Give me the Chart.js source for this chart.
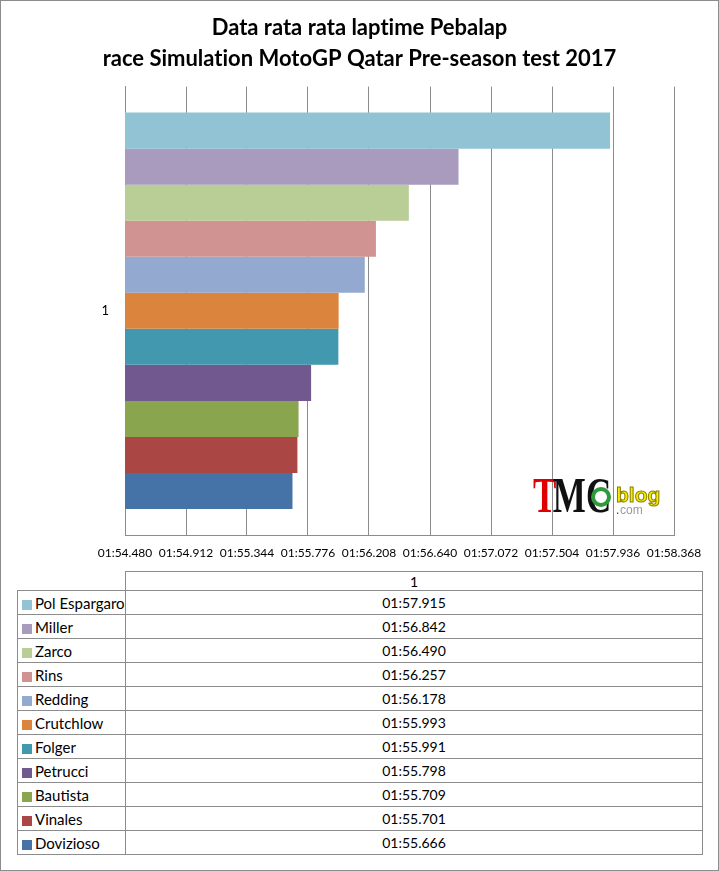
<!DOCTYPE html>
<html>
<head>
<meta charset="utf-8">
<script src="https://cdn.jsdelivr.net/npm/chart.js@4.4.0/dist/chart.umd.min.js"></script>
<style>
  body { margin: 0; background: #fff; font-family: Lato, sans-serif; }
  #wrap { position: relative; width: 719px; height: 871px; box-sizing: border-box; border: 1px solid #8c8c8c; background: #fff; }
  #box { position: absolute; left: 0; top: 0; width: 717px; height: 565px; }
  #tbl { position: absolute; left: 16px; top: 570px; border-collapse: collapse; table-layout: fixed; width: 686px; font-size: 14px; color: #000; }
  #tbl td { border: 1px solid #8c8c8c; padding: 0; height: 23px; white-space: nowrap; }
  #tbl tr.head td { height: 18px; text-align: center; }
  #tbl td.corner { border: none; }
  #tbl td.name { padding-left: 4px; font-size: 15px; }
  #tbl td.val { text-align: center; }
  .key { display: inline-block; width: 10px; height: 10px; margin-right: 3px; vertical-align: -1px; }
</style>
</head>
<body>
<div id="wrap">
  <div id="box"><canvas id="lapChart"></canvas></div>
  <table id="tbl"></table>
</div>
<script>
// riders, top bar first
const riders = ['Pol Espargaro', 'Miller', 'Zarco', 'Rins', 'Redding', 'Crutchlow',
                'Folger', 'Petrucci', 'Bautista', 'Vinales', 'Dovizioso'];
// average laptime in seconds (01:57.915 -> 117.915)
const lapSeconds = [117.915, 116.842, 116.490, 116.257, 116.178, 115.993,
                    115.991, 115.798, 115.709, 115.701, 115.666];
const riderColors = ['#91C3D5', '#A99BBD', '#B9CD96', '#D19392', '#93A9CF', '#DB843D',
                     '#4198AF', '#71588F', '#89A54E', '#AA4643', '#4572A7'];
const categories = ['1'];
const tickSeconds = [114.480, 114.912, 115.344, 115.776, 116.208, 116.640,
                     117.072, 117.504, 117.936, 118.368];

function fmtLap(v) {
    let m = Math.floor(v / 60 + 1e-9);
    let s = v - m * 60;
    return String(m).padStart(2, '0') + ':' + s.toFixed(3).padStart(6, '0');
}

// data table under the chart
let tbl = document.getElementById('tbl');
let html = '<colgroup><col style="width:108px"><col></colgroup>';
html += '<tr class="head"><td class="corner"></td><td>' + categories[0] + '</td></tr>';
riders.forEach((r, i) => {
    html += '<tr><td class="name"><span class="key" style="background:' + riderColors[i] + '"></span>' + r +
            '</td><td class="val">' + fmtLap(lapSeconds[i]) + '</td></tr>';
});
tbl.innerHTML = html;

// no ligatures in canvas text (Lato turns "ti" into one glyph)
const plainText = {
    id: 'plainText',
    beforeDraw(chart) { chart.ctx.textRendering = 'optimizeSpeed'; }
};

// TMC blog mark in the corner of the plot
const logoPlugin = {
    id: 'logo',
    afterDatasetsDraw(chart) {
        const { ctx, chartArea: a } = chart;
        const x = a.right - 141, y = a.bottom - 23;
        ctx.save();
        ctx.textBaseline = 'alphabetic';
        ctx.translate(x, y);
        ctx.scale(0.7, 1);
        ctx.font = 'bold 50px "Liberation Serif"';
        ctx.fillStyle = '#e00000';
        ctx.fillText('T', 0, 0);
        let w = ctx.measureText('T').width;
        ctx.fillStyle = '#111';
        ctx.fillText('MC', w - 5, 0);
        ctx.restore();

        ctx.save();
        ctx.beginPath();
        ctx.arc(a.right - 73, a.bottom - 38, 8, 0, Math.PI * 2);
        ctx.fillStyle = '#fff';
        ctx.fill();
        ctx.lineWidth = 4;
        ctx.strokeStyle = '#2f9a3c';
        ctx.stroke();

        ctx.font = 'bold 21px "Liberation Sans"';
        ctx.lineWidth = 1;
        ctx.strokeStyle = '#8a7f00';
        ctx.fillStyle = '#f6ea00';
        ctx.fillText('blog', a.right - 58, a.bottom - 33);
        ctx.strokeText('blog', a.right - 58, a.bottom - 33);

        ctx.font = '12px "Liberation Sans"';
        ctx.fillStyle = '#d00000';
        ctx.fillText('.', a.right - 58, a.bottom - 21);
        ctx.fillStyle = '#9a9a9a';
        ctx.fillText('com', a.right - 54, a.bottom - 21);
        ctx.restore();
    }
};

let datasets = riders.map((r, i) => ({
    label: r,
    data: [lapSeconds[i]],
    backgroundColor: riderColors[i],
    borderWidth: 0,
    barPercentage: 1,
    categoryPercentage: 0.884
}));

new Chart(document.getElementById('lapChart'), {
    type: 'bar',
    data: { labels: categories, datasets: datasets },
    plugins: [plainText, logoPlugin],
    options: {
        indexAxis: 'y',
        responsive: true,
        maintainAspectRatio: false,
        animation: false,
        layout: { padding: 0 },
        plugins: {
            legend: { display: false },
            tooltip: { enabled: false },
            title: {
                display: true,
                text: ['Data rata rata laptime Pebalap', 'race Simulation MotoGP Qatar Pre-season test 2017'],
                color: '#000',
                font: { family: 'Lato', size: 22, weight: 'bold', lineHeight: 1.4 },
                padding: { top: 12, bottom: 12 }
            }
        },
        scales: {
            x: {
                min: tickSeconds[0],
                max: tickSeconds[tickSeconds.length - 1],
                afterBuildTicks: s => { s.ticks = tickSeconds.map(v => ({ value: v })); },
                afterFit: s => { s.height = 31; },
                grid: { color: '#8c8c8c', lineWidth: 1, drawTicks: false },
                border: { display: true, color: '#8c8c8c', width: 1 },
                ticks: {
                    color: '#000',
                    font: { family: 'Lato', size: 12 },
                    padding: 11,
                    maxRotation: 0,
                    autoSkip: false,
                    callback: v => fmtLap(v)
                }
            },
            y: {
                afterFit: s => { s.width = 124; },
                grid: { display: false },
                border: { display: true, color: '#8c8c8c', width: 1 },
                ticks: { color: '#000', font: { family: 'Lato', size: 13 }, padding: 8 }
            },
            // empty right margin, keeps the title centred on the whole picture
            yRight: {
                type: 'category',
                position: 'right',
                afterFit: s => { s.width = 44; },
                grid: { display: false },
                border: { display: false },
                ticks: { display: false }
            }
        }
    }
});
</script>
</body>
</html>
